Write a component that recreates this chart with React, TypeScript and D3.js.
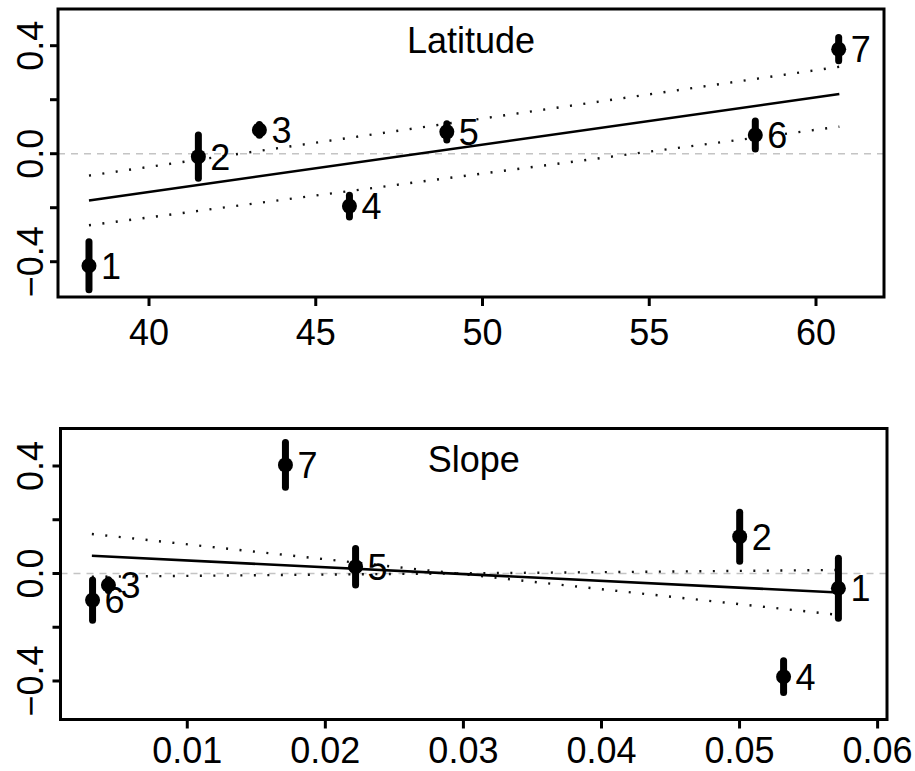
import React from 'react';
import * as d3 from 'd3';

// latitude panel
const latX = [38.2, 41.48, 43.31, 46.01, 48.93, 58.18, 60.68];
const latY = [-0.415, -0.011, 0.088, -0.194, 0.081, 0.069, 0.387];
const latErr = [0.089, 0.08, 0.02, 0.04, 0.03, 0.052, 0.043];
const latFitX = [38.2, 60.7];
const latFit = [-0.173, 0.221];
const latUpper = [-0.081, 0.322];
const latLower = [-0.265, 0.1];
const latTicks = [40, 45, 50, 55, 60];

// slope panel
const slopeX = [0.05716, 0.05001, 0.00429, 0.05319, 0.02219, 0.00314, 0.01711];
const slopeY = [-0.055, 0.137, -0.043, -0.384, 0.025, -0.099, 0.404];
const slopeErr = [0.112, 0.091, 0.02, 0.059, 0.068, 0.075, 0.083];
const slopeFitX = [0.00309, 0.05716];
const slopeFit = [0.066, -0.071];
const slopeBandA = [0.147, -0.154];
const slopeBandB = [-0.012, 0.013];
const slopeTicks = [0.01, 0.02, 0.03, 0.04, 0.05, 0.06];

const labels = ['1', '2', '3', '4', '5', '6', '7'];
const yLabelTicks = [-0.4, 0, 0.4];
const yAllTicks = [-0.4, -0.2, 0, 0.2, 0.4];

const FONT = '"Liberation Sans", Arial, sans-serif';
const FS = 36;

type PanelProps = {
  title: string;
  xs: number[];
  ys: number[];
  errs: number[];
  fitX: number[];
  fit: number[];
  bandA: number[];
  bandB: number[];
  xTicks: number[];
  xFmt: (v: number) => string;
  xDomain: [number, number];
  yDomain: [number, number];
  box: { left: number; right: number; top: number; bottom: number };
  titleY: number;
  labelY: number;
};

const Panel = (p: PanelProps) => {
  const { box } = p;
  const x = d3.scaleLinear().domain(p.xDomain).range([box.left, box.right]);
  const y = d3.scaleLinear().domain(p.yDomain).range([box.bottom, box.top]);
  const line = d3
    .line<number>()
    .x((_, i) => x(p.fitX[i]))
    .y((d) => y(d));

  return (
    <g>
      {/* zero reference */}
      <line
        x1={box.left}
        x2={box.right}
        y1={y(0)}
        y2={y(0)}
        stroke="#c4c4c4"
        strokeWidth={1.5}
        strokeDasharray="7 6"
      />
      <path d={line(p.bandA) || ''} fill="none" stroke="#111" strokeWidth={2.4} strokeDasharray="2 11.5" />
      <path d={line(p.bandB) || ''} fill="none" stroke="#111" strokeWidth={2.4} strokeDasharray="2 11.5" />
      <path d={line(p.fit) || ''} fill="none" stroke="#000" strokeWidth={2.6} />

      {p.xs.map((xv, i) => (
        <g key={i}>
          <line
            x1={x(xv)}
            x2={x(xv)}
            y1={y(p.ys[i] - p.errs[i])}
            y2={y(p.ys[i] + p.errs[i])}
            stroke="#000"
            strokeWidth={7}
            strokeLinecap="round"
          />
          <circle cx={x(xv)} cy={y(p.ys[i])} r={7.5} fill="#000" />
          <text
            x={x(xv) + 12}
            y={y(p.ys[i])}
            dy="0.36em"
            fontSize={FS}
            fontFamily={FONT}
            fill="#000"
          >
            {labels[i]}
          </text>
        </g>
      ))}

      <text
        x={(box.left + box.right) / 2}
        y={p.titleY}
        textAnchor="middle"
        fontSize={FS}
        fontFamily={FONT}
        fill="#000"
      >
        {p.title}
      </text>

      <rect
        x={box.left}
        y={box.top}
        width={box.right - box.left}
        height={box.bottom - box.top}
        fill="none"
        stroke="#000"
        strokeWidth={3}
      />

      {/* y axis */}
      {yAllTicks.map((t) => (
        <line key={t} x1={box.left - 8} x2={box.left} y1={y(t)} y2={y(t)} stroke="#000" strokeWidth={3} />
      ))}
      {yLabelTicks.map((t) => (
        <text
          key={t}
          transform={`translate(43,${y(t)}) rotate(-90)`}
          textAnchor="middle"
          fontSize={FS}
          fontFamily={FONT}
          fill="#000"
        >
          {t === 0 ? '0.0' : t < 0 ? '\u2212' + Math.abs(t).toFixed(1) : t.toFixed(1)}
        </text>
      ))}

      {/* x axis */}
      {p.xTicks.map((t) => (
        <g key={t}>
          <line x1={x(t)} x2={x(t)} y1={box.bottom} y2={box.bottom + 9} stroke="#000" strokeWidth={3} />
          <text x={x(t)} y={p.labelY} textAnchor="middle" fontSize={FS} fontFamily={FONT} fill="#000">
            {p.xFmt(t)}
          </text>
        </g>
      ))}
    </g>
  );
};

export default function App() {
  return (
    <svg
      width={915}
      height={771}
      style={{ position: 'absolute', left: 0, top: 0, background: '#fff' }}
    >
      <rect width={915} height={771} fill="#fff" />
      <Panel
        title="Latitude"
        xs={latX}
        ys={latY}
        errs={latErr}
        fitX={latFitX}
        fit={latFit}
        bandA={latUpper}
        bandB={latLower}
        xTicks={latTicks}
        xFmt={(v) => String(v)}
        xDomain={[37.271, 62.039]}
        yDomain={[-0.5307, 0.5359]}
        box={{ left: 58, right: 884, top: 9, bottom: 297 }}
        titleY={53}
        labelY={345}
      />
      <Panel
        title="Slope"
        xs={slopeX}
        ys={slopeY}
        errs={slopeErr}
        fitX={slopeFitX}
        fit={slopeFit}
        bandA={slopeBandA}
        bandB={slopeBandB}
        xTicks={slopeTicks}
        xFmt={(v) => v.toFixed(2)}
        xDomain={[0.000818, 0.06068]}
        yDomain={[-0.5433, 0.5395]}
        box={{ left: 60.5, right: 887, top: 428.5, bottom: 719.5 }}
        titleY={472}
        labelY={763}
      />
    </svg>
  );
}
